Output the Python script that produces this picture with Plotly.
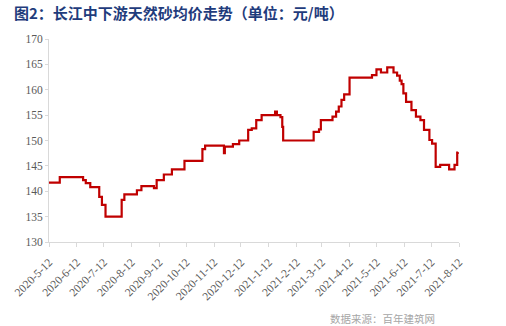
import plotly.graph_objects as go

dates = ["2020-05-12", "2020-05-24", "2020-06-19", "2020-06-22", "2020-06-27", "2020-07-07",
         "2020-07-10", "2020-07-14", "2020-08-01", "2020-08-04", "2020-08-18", "2020-08-23",
         "2020-09-06", "2020-09-09", "2020-09-17", "2020-09-26", "2020-10-10", "2020-10-30",
         "2020-11-02", "2020-11-23", "2020-11-24", "2020-12-03", "2020-12-10", "2020-12-20",
         "2020-12-24", "2020-12-29", "2021-01-04", "2021-01-19", "2021-01-21", "2021-01-25",
         "2021-01-27", "2021-01-28", "2021-03-03", "2021-03-09", "2021-03-11", "2021-03-24",
         "2021-03-28", "2021-03-31", "2021-04-03", "2021-04-06", "2021-04-12", "2021-05-07",
         "2021-05-12", "2021-05-17", "2021-05-24", "2021-05-31", "2021-06-04", "2021-06-07",
         "2021-06-09", "2021-06-11", "2021-06-14", "2021-06-20", "2021-06-25", "2021-06-30",
         "2021-07-04", "2021-07-10", "2021-07-13", "2021-07-17", "2021-07-22", "2021-08-01",
         "2021-08-07", "2021-08-10", "2021-08-11"]
prices = [141.7, 142.8, 142.2, 141.6, 140.8, 138.9,
          137.3, 135.0, 138.3, 139.4, 140.2, 141.0,
          140.6, 142.2, 143.3, 144.3, 146.0, 148.3,
          149.0, 147.5, 148.8, 149.3, 150.0, 152.1,
          152.4, 154.0, 155.0, 155.7, 155.0, 154.6,
          152.7, 150.0, 151.7, 152.2, 154.0, 154.7,
          155.7, 156.7, 158.0, 159.1, 162.4, 162.9,
          164.0, 163.4, 164.4, 163.4, 162.8, 161.8,
          161.1, 159.3, 157.6, 156.0, 154.7, 154.0,
          152.1, 150.1, 149.4, 144.8, 145.2, 144.3,
          145.2, 147.6, 147.7]

tick_dates = ["2020-05-12", "2020-06-12", "2020-07-12", "2020-08-12", "2020-09-12", "2020-10-12",
              "2020-11-12", "2020-12-12", "2021-01-12", "2021-02-12", "2021-03-12", "2021-04-12",
              "2021-05-12", "2021-06-12", "2021-07-12", "2021-08-12"]
tick_labels = ["2020-5-12", "2020-6-12", "2020-7-12", "2020-8-12", "2020-9-12", "2020-10-12",
               "2020-11-12", "2020-12-12", "2021-1-12", "2021-2-12", "2021-3-12", "2021-4-12",
               "2021-5-12", "2021-6-12", "2021-7-12", "2021-8-12"]
y_ticks = [130, 135, 140, 145, 150, 155, 160, 165, 170]

title_text = "图2：长江中下游天然砂均价走势（单位：元/吨）"
source_text = "数据来源：百年建筑网"

fig = go.Figure()
fig.add_trace(go.Scatter(x=dates, y=prices, mode="lines", line_shape="hv",
                         line=dict(color="#C00000", width=2.2), showlegend=False,
                         hoverinfo="skip"))

tick_font = dict(family="Liberation Serif, Times New Roman, serif", size=11.5, color="#595959")

fig.update_layout(
    width=506, height=326,
    margin=dict(l=42, r=47, t=39, b=84),
    paper_bgcolor="white", plot_bgcolor="white",
    xaxis=dict(type="date", range=["2020-05-12", "2021-08-12"],
               tickvals=tick_dates, ticktext=tick_labels, tickangle=-45,
               tickfont=tick_font, showgrid=False, zeroline=False,
               showline=True, linecolor="#D9D9D9", linewidth=1,
               ticks="outside", ticklen=4, tickcolor="#D9D9D9",
               ticklabelstandoff=4),
    yaxis=dict(range=[130, 170], tickvals=y_ticks, tickfont=tick_font,
               showgrid=False, zeroline=False, showline=True,
               linecolor="#D9D9D9", linewidth=1, ticks="outside", ticklen=3,
               tickcolor="#D9D9D9"),
    annotations=[
        dict(text="<b>" + title_text + "</b>", xref="paper", yref="paper",
             x=-38 / 417, y=1 + 27 / 203, xanchor="left", yanchor="middle",
             showarrow=False,
             font=dict(family="Noto Sans CJK SC", size=15, color="#1F3C7C")),
        dict(text=source_text, xref="paper", yref="paper",
             x=(437 - 42) / 417, y=-(318 - 242) / 203, xanchor="right", yanchor="middle",
             showarrow=False,
             font=dict(family="Noto Sans CJK SC", size=10.5, color="#A6A6A6")),
    ],
)

fig.write_html("out.html")
